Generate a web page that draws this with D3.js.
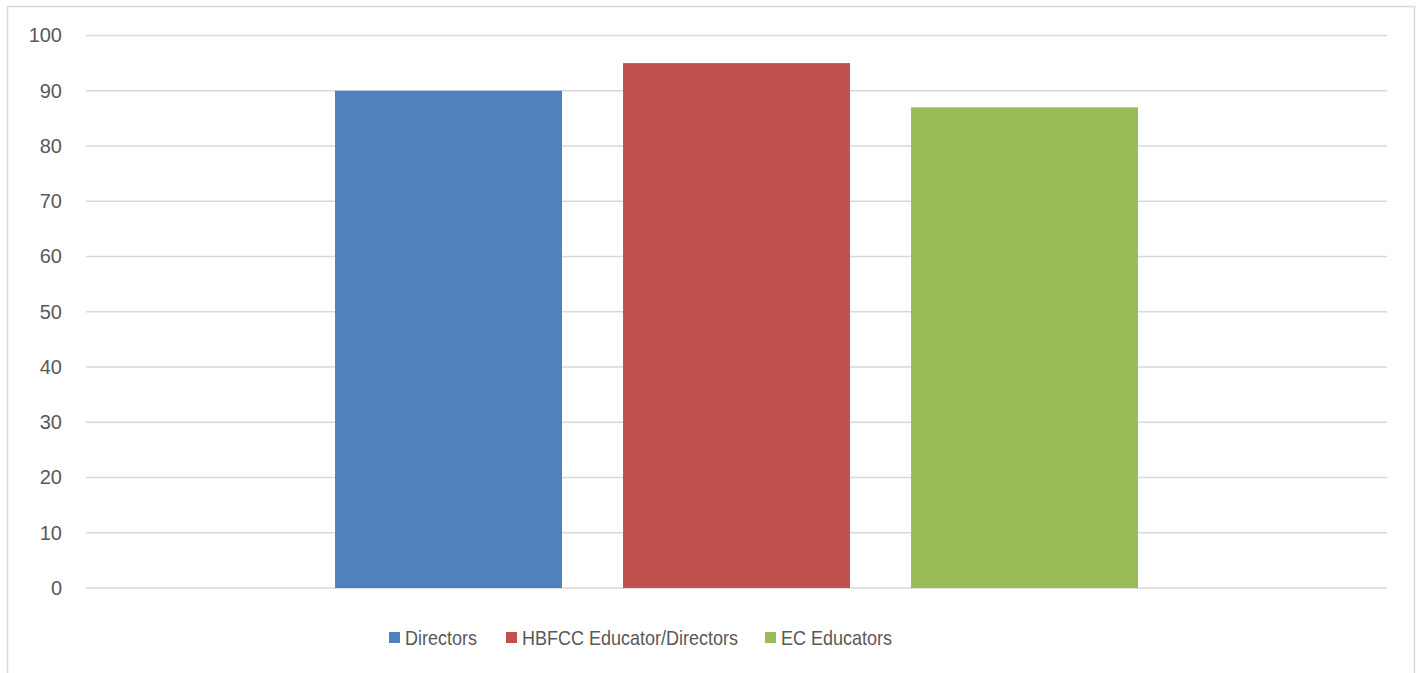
<!DOCTYPE html>
<html>
<head>
<meta charset="utf-8">
<script src="https://cdn.jsdelivr.net/npm/d3@7"></script>
<style>
  body { margin: 0; background: #fff; }
  text { font-family: "Liberation Sans", Arial, sans-serif; fill: #595959; }
</style>
</head>
<body>
<div class="chart"></div>
<script>
var series = ['Directors', 'HBFCC Educator/Directors', 'EC Educators'];
var values = [90, 95, 87];
var colors = ['#4f81bd', '#c0504d', '#9bbb59'];
var yTicks = [0, 10, 20, 30, 40, 50, 60, 70, 80, 90, 100];

var width = 1421, height = 673;
var plotLeft = 86, plotRight = 1387, plotTop = 35.5, plotBottom = 588;

var svg = d3.select('.chart').append('svg').attr('width', width).attr('height', height);

// outer frame (bottom edge is cut off in the picture)
svg.append('rect').attr('x', 7.5).attr('y', 6.5).attr('width', 1407).attr('height', 700)
  .attr('fill', 'none').attr('stroke', '#d9d9d9').attr('stroke-width', 1.5);

var y = d3.scaleLinear().domain([0, 100]).range([plotBottom, plotTop]);
var mid = (plotLeft + plotRight) / 2;
var x = d3.scaleBand().domain(series).range([mid - 432, mid + 432])
  .paddingInner(0.212).paddingOuter(0.106);

// gridlines
svg.append('g').selectAll('line').data(yTicks).enter().append('line')
  .attr('x1', plotLeft).attr('x2', plotRight)
  .attr('y1', function(d) { return y(d); }).attr('y2', function(d) { return y(d); })
  .attr('stroke', '#d9d9d9').attr('stroke-width', 1.5);

// y labels
var yAxis = d3.axisLeft(y).tickValues(yTicks).tickSize(0).tickPadding(0);
var ya = svg.append('g').attr('transform', 'translate(62,0)').call(yAxis);
ya.select('.domain').remove();
ya.selectAll('text').attr('fill', '#595959').style('font-size', '20px')
  .style('font-family', '"Liberation Sans", Arial, sans-serif');

// bars
svg.append('g').selectAll('rect').data(values).enter().append('rect')
  .attr('x', function(d, i) { return x(series[i]); })
  .attr('width', x.bandwidth())
  .attr('y', function(d) { return y(d); })
  .attr('height', function(d) { return plotBottom - y(d); })
  .attr('fill', function(d, i) { return colors[i]; });

// legend
var legX = [389, 506, 765];
var leg = svg.append('g').selectAll('g').data(series).enter().append('g')
  .attr('transform', function(d, i) { return 'translate(' + legX[i] + ',632)'; });
leg.append('rect').attr('width', 11).attr('height', 11)
  .attr('fill', function(d, i) { return colors[i]; });
leg.append('text').attr('transform', 'translate(16,13) scale(0.9,1)').style('font-size', '20px')
  .text(function(d) { return d; });
</script>
</body>
</html>
